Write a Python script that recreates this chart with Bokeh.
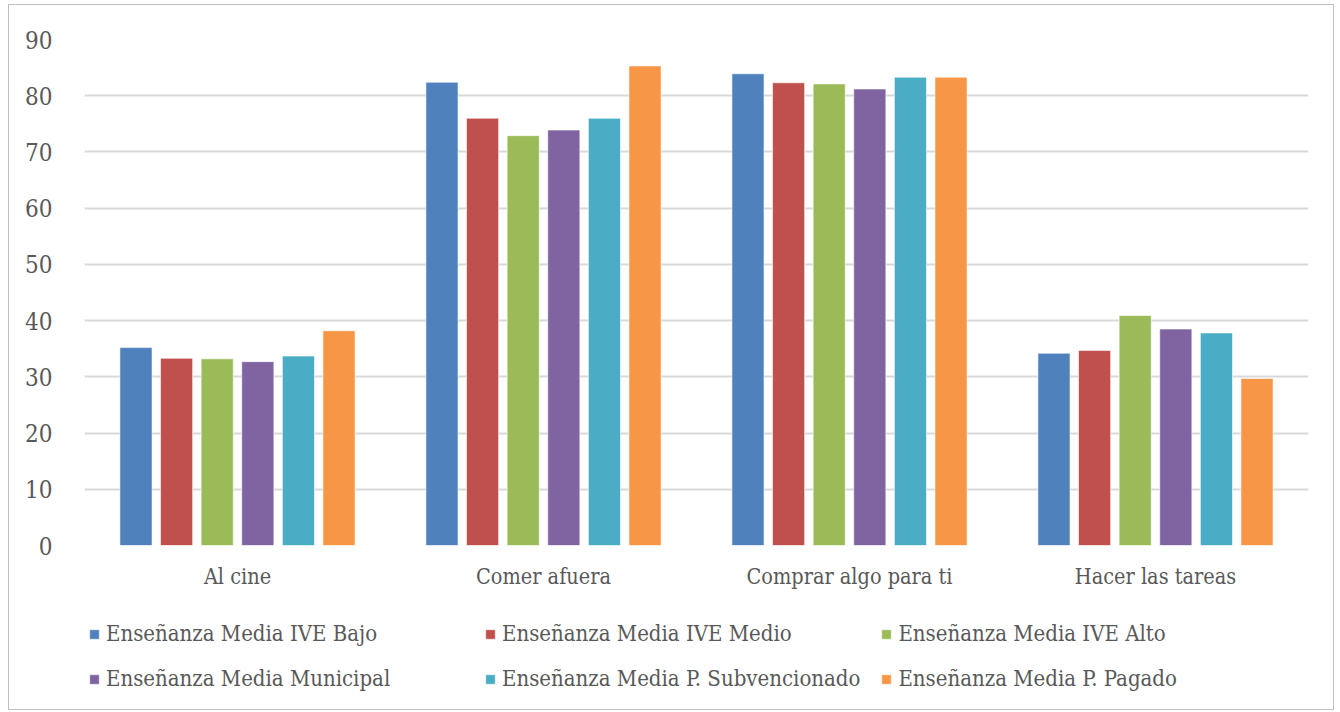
from bokeh.plotting import figure
from bokeh.models import ColumnDataSource, Legend, LegendItem, FactorRange, Range1d
from bokeh.transform import dodge
from bokeh.layouts import column
from bokeh.embed import file_html
from bokeh.resources import INLINE

categories = ["Al cine", "Comer afuera", "Comprar algo para ti", "Hacer las tareas"]
series_names = [
    "Enseñanza Media IVE Bajo",
    "Enseñanza Media IVE Medio",
    "Enseñanza Media IVE Alto",
    "Enseñanza Media Municipal",
    "Enseñanza Media P. Subvencionado",
    "Enseñanza Media P. Pagado",
]
ive_bajo = [35.2, 82.4, 83.9, 34.2]
ive_medio = [33.3, 76.0, 82.3, 34.7]
ive_alto = [33.2, 72.9, 82.1, 40.9]
municipal = [32.7, 73.9, 81.2, 38.5]
p_subvencionado = [33.7, 76.0, 83.3, 37.8]
p_pagado = [38.2, 85.3, 83.3, 29.7]
y_ticks = [0, 10, 20, 30, 40, 50, 60, 70, 80, 90]

colors = ["#4F81BD", "#C0504D", "#9BBB59", "#8064A2", "#4BACC6", "#F79646"]
all_series = [ive_bajo, ive_medio, ive_alto, municipal, p_subvencionado, p_pagado]
keys = ["s0", "s1", "s2", "s3", "s4", "s5"]

data = {"cat": categories}
for k, s in zip(keys, all_series):
    data[k] = s
source = ColumnDataSource(data)

FONT = "DejaVu Serif Condensed"
TXT = "#595959"
BORDER = "1px solid #BFBFBF"

p = figure(
    x_range=FactorRange(*categories, range_padding=0),
    y_range=(0, 90),
    width=1326, height=595,
    output_backend="svg", toolbar_location=None,
    min_border_left=75, min_border_right=27, min_border_top=34, min_border_bottom=55,
)
p.x_range.range_padding = 0

pitch = 0.1327
bw = 0.105
for i, k in enumerate(keys):
    p.vbar(x=dodge("cat", (i - 2.5) * pitch, range=p.x_range), top=k, width=bw,
           source=source, fill_color=colors[i], line_color="white", line_width=1, line_alpha=0.6)

p.yaxis.ticker = y_ticks
p.xgrid.grid_line_color = None
p.ygrid.grid_line_color = "#D9D9D9"
p.ygrid.grid_line_width = 2
for ax in (p.xaxis, p.yaxis):
    ax.axis_line_color = None
    ax.major_tick_line_color = None
    ax.minor_tick_line_color = None
    ax.major_label_text_font = FONT
    ax.major_label_text_color = TXT
p.yaxis.major_label_text_font_size = "24px"
p.xaxis.major_label_text_font_size = "21.5px"
p.yaxis.major_label_standoff = 26
p.xaxis.major_label_standoff = 12
p.outline_line_color = None
p.styles = {"border-top": BORDER, "border-left": BORDER, "border-right": BORDER,
            "margin-left": "8px", "margin-top": "4px"}

# legend strip below the chart
lf = figure(
    x_range=p.x_range, y_range=Range1d(1000, 1001),
    width=1326, height=111,
    output_backend="svg", toolbar_location=None,
    x_axis_location=None, y_axis_location=None,
    min_border_left=0, min_border_right=0, min_border_top=0, min_border_bottom=0,
)
lf.xgrid.grid_line_color = None
lf.ygrid.grid_line_color = None
lf.outline_line_color = None
lf.styles = {"border-bottom": BORDER, "border-left": BORDER, "border-right": BORDER,
             "margin-left": "8px"}
lrs = []
for i, k in enumerate(keys):
    r = lf.vbar(x=dodge("cat", (i - 2.5) * pitch, range=lf.x_range), top=k, width=bw,
                source=source, fill_color=colors[i], line_color="white", line_width=1, line_alpha=0.6)
    lrs.append(r)

order = [0, 3, 1, 4, 2, 5]  # row-major placement in a column-major grid
items = [LegendItem(label=series_names[j], renderers=[lrs[j]]) for j in order]
legend = Legend(items=items, ncols=3, location=(4, 19),
                glyph_width=12, glyph_height=12, label_standoff=6,
                label_width=358, spacing=20,
                label_text_font=FONT, label_text_font_size="22px", label_text_color=TXT,
                border_line_color=None, background_fill_alpha=0, padding=0, margin=0)
lf.add_layout(legend, "center")

layout = column(p, lf, spacing=0)
open("out.html", "w").write(file_html(layout, INLINE))
